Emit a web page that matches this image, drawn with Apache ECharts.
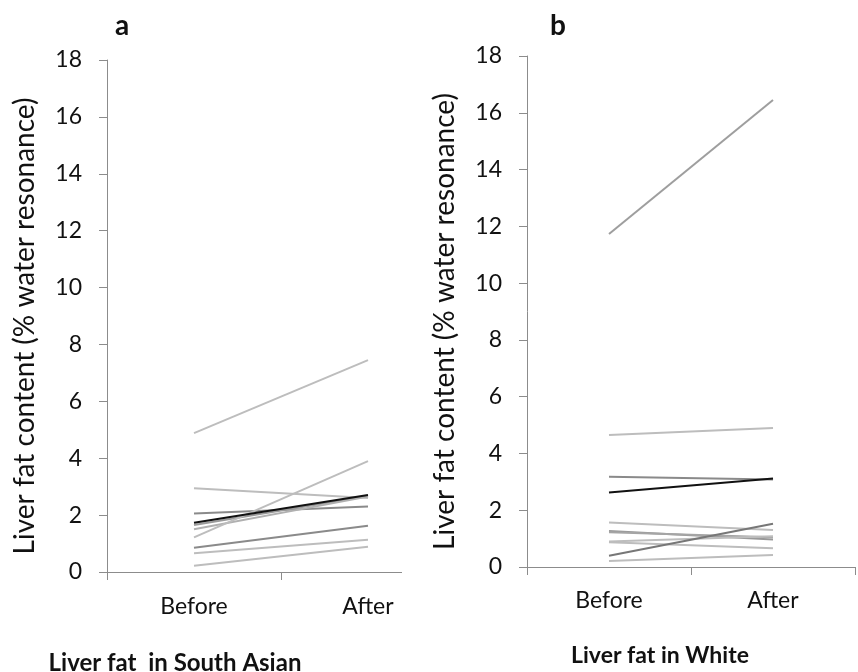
<!DOCTYPE html>
<html>
<head>
<meta charset="utf-8">
<script src="https://cdn.jsdelivr.net/npm/echarts@6/dist/echarts.min.js"></script>
<style>html,body{margin:0;padding:0;background:#fff;}#c{width:858px;height:672px;}</style>
</head>
<body>
<div id="c"></div>
<script>
var categories = ['Before', 'After'];
var yTicks = [0, 2, 4, 6, 8, 10, 12, 14, 16, 18];
// Panel a: South Asian, [before, after]
var southAsian = [
  [4.88, 7.45],
  [2.94, 2.60],
  [2.06, 2.30],
  [1.65, 2.67],
  [1.50, 2.65],
  [1.22, 3.90],
  [0.85, 1.63],
  [0.66, 1.13],
  [0.22, 0.89],
  [1.73, 2.71]
];
var southAsianColors = ['#bdbdbd','#bdbdbd','#8a8a8a','#9a9a9a','#b0b0b0','#bdbdbd','#8a8a8a','#bdbdbd','#bdbdbd','#111111'];
// Panel b: White
var white = [
  [11.73, 16.45],
  [4.65, 4.90],
  [3.18, 3.08],
  [1.57, 1.30],
  [1.27, 0.97],
  [1.22, 1.05],
  [0.90, 1.08],
  [0.87, 0.66],
  [0.40, 1.52],
  [0.21, 0.42],
  [2.62, 3.12]
];
var whiteColors = ['#9e9e9e','#bdbdbd','#8a8a8a','#bdbdbd','#999999','#a5a5a5','#bdbdbd','#bdbdbd','#777777','#bdbdbd','#111111'];

var FONT = 'Lato';
var axisColor = '#8c8c8c';

function yAxis(gi) {
  return {
    type: 'value', gridIndex: gi, min: yTicks[0], max: yTicks[yTicks.length - 1], interval: 2,
    splitLine: {show: false},
    axisLine: {show: true, lineStyle: {color: axisColor, width: 1}},
    axisTick: {show: true, length: 8, lineStyle: {color: axisColor}},
    axisLabel: {fontSize: 23, fontFamily: FONT, color: '#111', margin: 25},
    name: 'Liver fat content (% water resonance)',
    nameLocation: 'middle', nameGap: 68, nameRotate: 90,
    nameTextStyle: {fontSize: 28, fontFamily: FONT, color: '#111', padding: [0, 20, 0, 0]}
  };
}
function xAxis(gi, margin) {
  return {
    type: 'category', gridIndex: gi, data: categories, boundaryGap: true,
    axisLine: {show: true, lineStyle: {color: axisColor, width: 1}},
    axisTick: {show: true, length: 8, alignWithLabel: false, lineStyle: {color: axisColor}},
    axisLabel: {fontSize: 23, fontFamily: FONT, color: '#111', margin: margin}
  };
}
var series = [];
southAsian.forEach(function (d, i) {
  series.push({type: 'line', xAxisIndex: 0, yAxisIndex: 0, data: d, symbol: 'none',
    lineStyle: {color: southAsianColors[i], width: 2}, silent: true, z: 2 + (i === southAsian.length - 1 ? 5 : 0)});
});
white.forEach(function (d, i) {
  series.push({type: 'line', xAxisIndex: 1, yAxisIndex: 1, data: d, symbol: 'none',
    lineStyle: {color: whiteColors[i], width: 2}, silent: true, z: 2 + (i === white.length - 1 ? 5 : 0)});
});

var chart = echarts.init(document.getElementById('c'), null, {renderer: 'canvas'});
chart.setOption({
  animation: false,
  backgroundColor: '#fff',
  grid: [
    {left: 107, top: 60, width: 348, height: 512},
    {left: 527, top: 56, width: 328, height: 511}
  ],
  xAxis: [xAxis(0, 23), xAxis(1, 22)],
  yAxis: [yAxis(0), yAxis(1)],
  series: series,
  graphic: [
    {type: 'rect', z: 100, shape: {x: 402, y: 566, width: 62, height: 20}, style: {fill: '#fff'}},
    {type: 'text', z: 101, x: 122, y: 26, style: {text: 'a', font: 'bold 28px ' + FONT, fill: '#111', textAlign: 'center', textVerticalAlign: 'middle'}},
    {type: 'text', z: 101, x: 558, y: 26, style: {text: 'b', font: 'bold 28px ' + FONT, fill: '#111', textAlign: 'center', textVerticalAlign: 'middle'}},
    {type: 'text', z: 101, x: 175, y: 663, style: {text: 'Liver fat  in South Asian', font: 'bold 24px ' + FONT, fill: '#111', textAlign: 'center', textVerticalAlign: 'middle'}},
    {type: 'text', z: 101, x: 660, y: 656, style: {text: 'Liver fat in White', font: 'bold 23px ' + FONT, fill: '#111', textAlign: 'center', textVerticalAlign: 'middle'}}
  ]
});
</script>
</body>
</html>
